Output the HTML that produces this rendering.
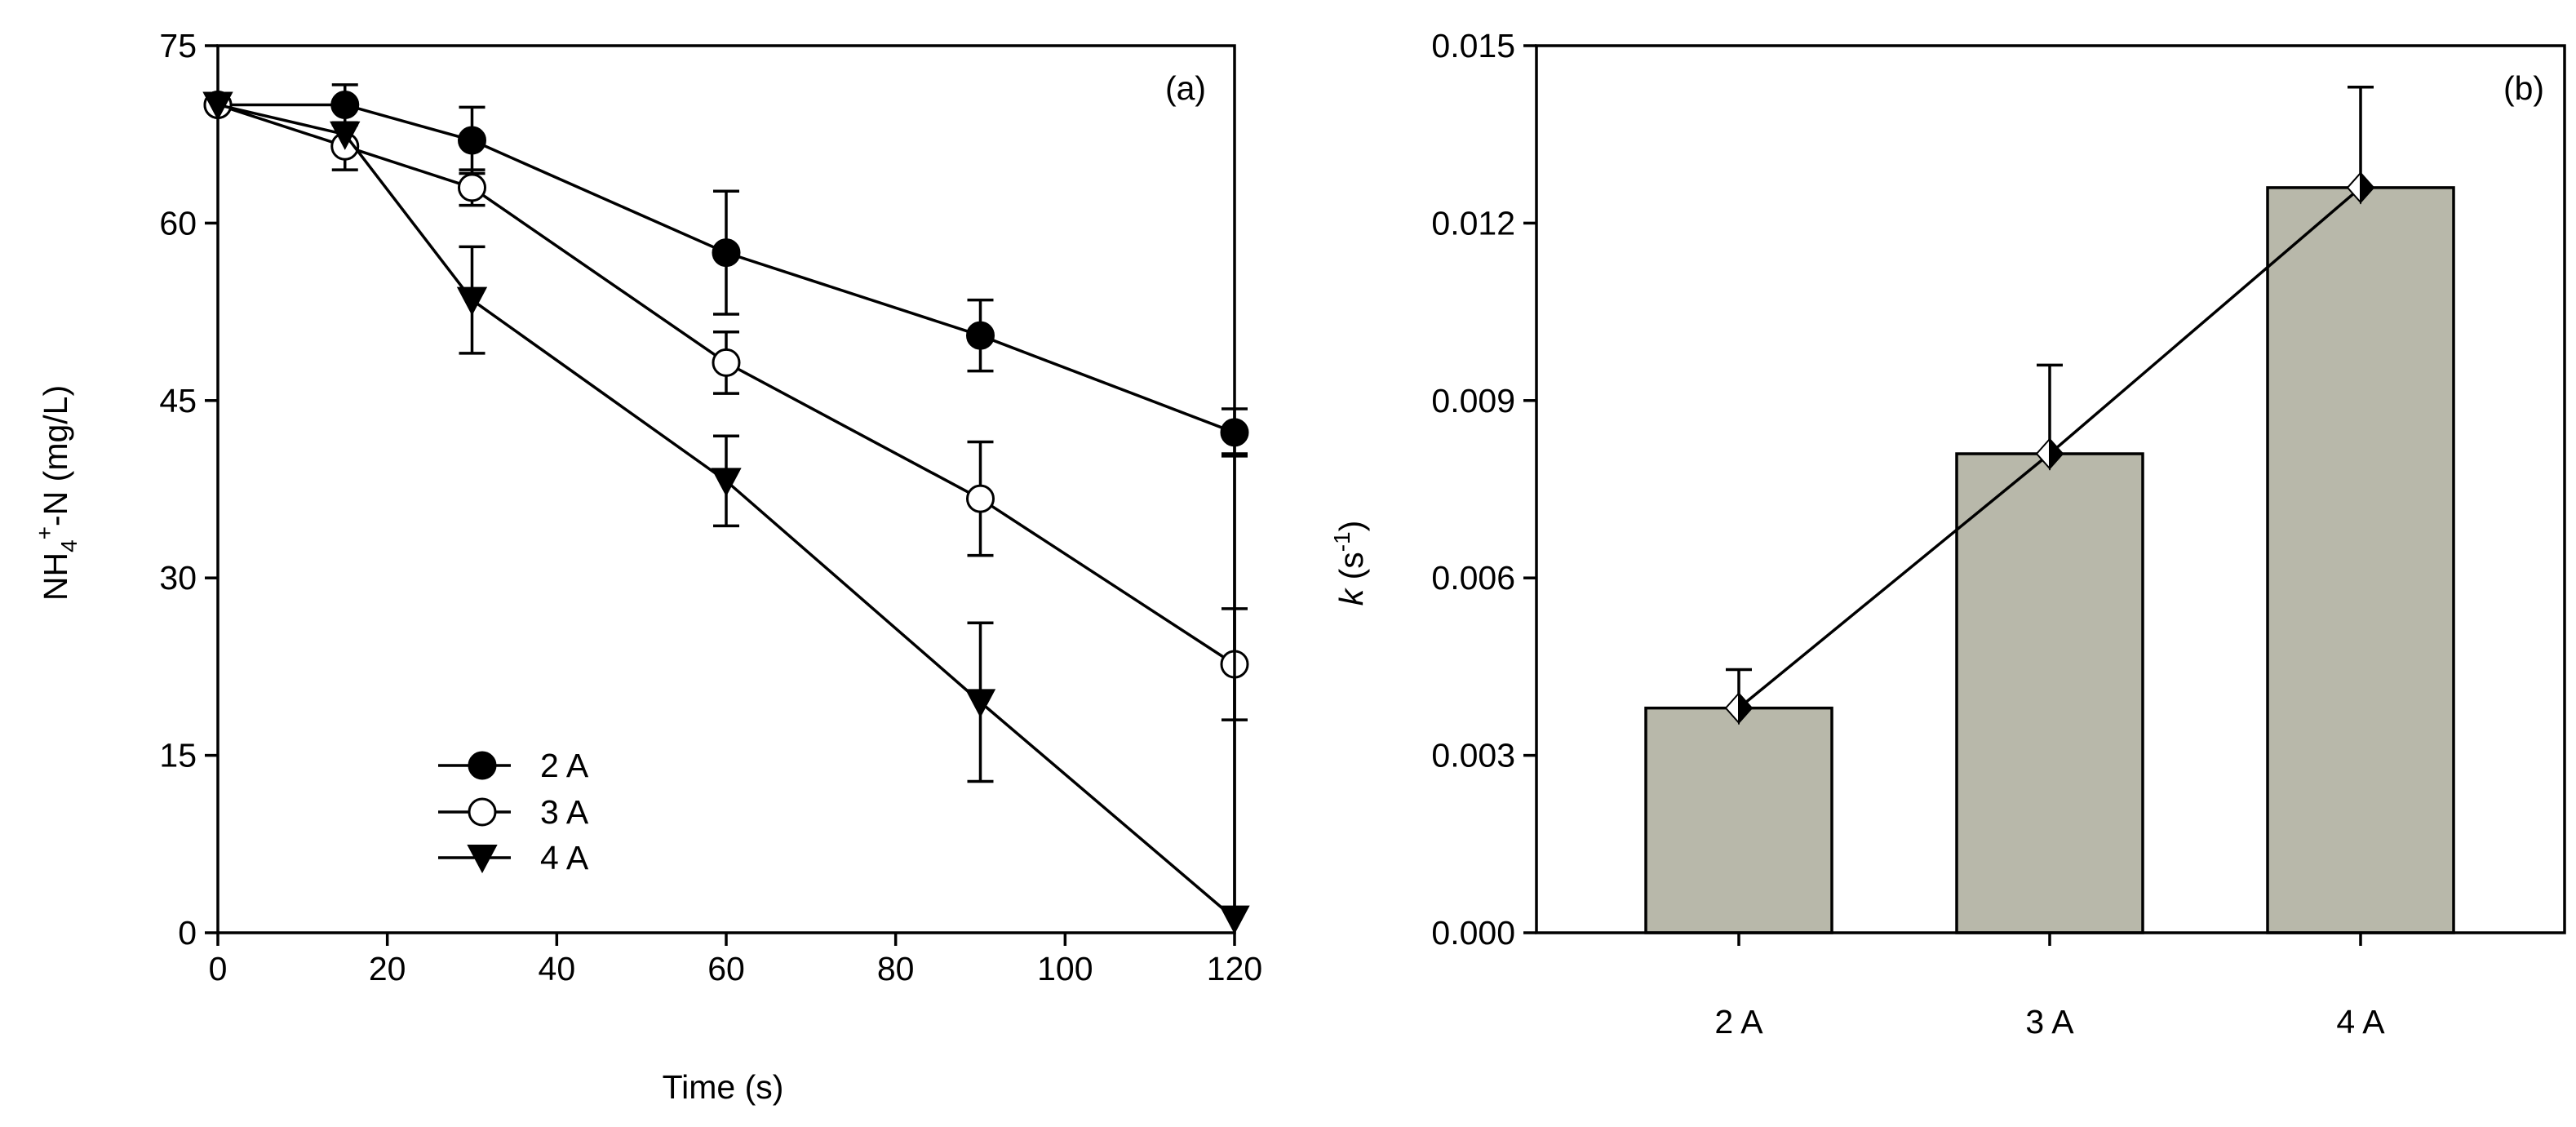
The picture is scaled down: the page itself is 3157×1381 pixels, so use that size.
<!DOCTYPE html>
<html><head><meta charset="utf-8"><style>
html,body{margin:0;padding:0;background:#fff;overflow:hidden;}
svg{display:block;font-family:"Liberation Sans",Arial,sans-serif;}
</style></head><body>
<svg id="c" width="3157" height="1381" viewBox="0 0 3157 1381" xmlns="http://www.w3.org/2000/svg"></svg>
<script>
const times=[0,15,30,60,90,120];
const s2A=[70,70,67,57.5,50.5,42.3];
const e2A=[0,1.7,2.8,5.2,3,2];
const s3A=[70,66.5,63,48.2,36.7,22.7];
const e3A=[0,2,1.5,2.6,4.8,4.7];
const s4A=[70,67.5,53.5,38.2,19.5,1.2];
const e4A=[0,0,4.5,3.8,6.7,39.3];
const xTicks=[0,20,40,60,80,100,120];
const yTicksA=[0,15,30,45,60,75];
const cats=["2 A","3 A","4 A"];
const kVals=[0.0038,0.0081,0.0126];
const kErr=[0.00065,0.0015,0.0017];
const yTicksB=["0.000","0.003","0.006","0.009","0.012","0.015"];

const svg=document.getElementById('c');
const NS="http://www.w3.org/2000/svg";
function mk(t,a,p){const e=document.createElementNS(NS,t);for(const k in a)e.setAttribute(k,a[k]);(p||svg).appendChild(e);return e;}

// Panel A
const AX0=267,AX1=1513,AY0=1143,AY1=56;
const xa=v=>AX0+(v-0)/(120-0)*(AX1-AX0);
const ya=v=>AY0-(v/75)*(AY0-AY1);
const gA=mk('g',{});


let fr=mk('rect',{x:AX0,y:AY1,width:AX1-AX0,height:AY0-AY1,fill:'none',stroke:'#000','stroke-width':3.5},gA);

xTicks.forEach(t=>{mk('line',{x1:xa(t),x2:xa(t),y1:AY0,y2:AY0+16,stroke:'#000','stroke-width':3.5},gA);
 const tx=mk('text',{x:xa(t),y:AY0+58,'font-size':41,'text-anchor':'middle'},gA);tx.textContent=t;
 });
yTicksA.forEach(t=>{mk('line',{x1:AX0-16,x2:AX0,y1:ya(t),y2:ya(t),stroke:'#000','stroke-width':3.5},gA);
 const tx=mk('text',{x:AX0-26,y:ya(t)+14,'font-size':41,'text-anchor':'end'},gA);tx.textContent=t;
 });
let xt=mk('text',{x:886,y:1346,'font-size':41,'text-anchor':'middle'},gA);xt.textContent='Time (s)';

let yt=mk('text',{x:0,y:0,'font-size':41,'text-anchor':'middle',transform:'translate(82,604) rotate(-90)'},gA);
yt.innerHTML='NH<tspan font-size="28" dy="12">4</tspan><tspan font-size="28" dy="-30">+</tspan><tspan dy="18">-N  (mg/L)</tspan>';

let la=mk('text',{x:1453,y:122,'font-size':41,'text-anchor':'middle'},gA);la.textContent='(a)';


function marker(type,x,y,p){
 if(type==='fill')return mk('circle',{cx:x,cy:y,r:16,fill:'#000',stroke:'#000','stroke-width':3},p);
 if(type==='open')return mk('circle',{cx:x,cy:y,r:16,fill:'#fff',stroke:'#000','stroke-width':3},p);
 return mk('polygon',{points:`${x-17},${y-15} ${x+17},${y-15} ${x},${y+17}`,fill:'#000',stroke:'#000','stroke-width':2},p);
}
const series=[[s2A,e2A,'fill','series-2a'],[s3A,e3A,'open','series-3a'],[s4A,e4A,'tri','series-4a']];
series.forEach(([vals,errs,type,name])=>{
 const g=mk('g',{},gA);
 
 mk('polyline',{points:vals.map((v,i)=>xa(times[i])+','+ya(v)).join(' '),fill:'none',stroke:'#000','stroke-width':3.5},g);
 vals.forEach((v,i)=>{if(errs[i]>0){const x=xa(times[i]);
  const hi=v+errs[i],lo=Math.max(0,v-errs[i]);
  mk('line',{x1:x,x2:x,y1:ya(hi),y2:ya(lo),stroke:'#000','stroke-width':3.5},g);
  mk('line',{x1:x-16,x2:x+16,y1:ya(hi),y2:ya(hi),stroke:'#000','stroke-width':3.5},g);
  if(v-errs[i]>0)mk('line',{x1:x-16,x2:x+16,y1:ya(lo),y2:ya(lo),stroke:'#000','stroke-width':3.5},g);}});
 vals.forEach((v,i)=>{const m=marker(type,xa(times[i]),ya(v),g);
  });
});
// legend
const leg=mk('g',{},gA);
[['fill','2 A',938],['open','3 A',995],['tri','4 A',1051]].forEach(([t,l,y])=>{
 const e=mk('g',{},leg);
 mk('line',{x1:537,x2:626,y1:y,y2:y,stroke:'#000','stroke-width':3.5},e);
 marker(t,591,y,e);
 const tx=mk('text',{x:662,y:y+14,'font-size':41},e);tx.textContent=l;
});

// Panel B
const BX0=1883,BX1=3143,BY0=1143,BY1=56;
const xb=i=>BX0+248+i*381;
const yb=v=>BY0-(v/0.015)*(BY0-BY1);
const gB=mk('g',{});
kVals.forEach((v,i)=>{const b=mk('rect',{x:xb(i)-114,y:yb(v),width:228,height:BY0-yb(v),fill:'#b8b8aa',stroke:'#000','stroke-width':3.5},gB);
 });
fr=mk('rect',{x:BX0,y:BY1,width:BX1-BX0,height:BY0-BY1,fill:'none',stroke:'#000','stroke-width':3.5},gB);

yTicksB.forEach(t=>{const v=parseFloat(t);mk('line',{x1:BX0-16,x2:BX0,y1:yb(v),y2:yb(v),stroke:'#000','stroke-width':3.5},gB);
 const tx=mk('text',{x:BX0-26,y:yb(v)+14,'font-size':41,'text-anchor':'end'},gB);tx.textContent=t;
 });
cats.forEach((c,i)=>{mk('line',{x1:xb(i),x2:xb(i),y1:BY0,y2:BY0+16,stroke:'#000','stroke-width':3.5},gB);
 const tx=mk('text',{x:xb(i),y:1266,'font-size':41,'text-anchor':'middle'},gB);tx.textContent=c;
 });
kVals.forEach((v,i)=>{const x=xb(i);
 mk('line',{x1:x,x2:x,y1:yb(v),y2:yb(v+kErr[i]),stroke:'#000','stroke-width':3.5},gB);
 mk('line',{x1:x-16,x2:x+16,y1:yb(v+kErr[i]),y2:yb(v+kErr[i]),stroke:'#000','stroke-width':3.5},gB);});
const ln=mk('polyline',{points:kVals.map((v,i)=>xb(i)+','+yb(v)).join(' '),fill:'none',stroke:'#000','stroke-width':3.5},gB);

kVals.forEach((v,i)=>{const x=xb(i),y=yb(v);
 const g=mk('g',{},gB);
 mk('polygon',{points:`${x},${y-18} ${x-16},${y} ${x},${y+18}`,fill:'#fff',stroke:'#000','stroke-width':2},g);
 mk('polygon',{points:`${x},${y-18} ${x+16},${y} ${x},${y+18}`,fill:'#000',stroke:'#000','stroke-width':2},g);});
yt=mk('text',{x:0,y:0,'font-size':41,'text-anchor':'middle',transform:'translate(1670,690) rotate(-90)'},gB);
yt.innerHTML='<tspan font-style="italic">k</tspan> (s<tspan font-size="28" dy="-16">-1</tspan><tspan dy="16">)</tspan>';

la=mk('text',{x:3093,y:122,'font-size':41,'text-anchor':'middle'},gB);la.textContent='(b)';

</script>
</body></html>
